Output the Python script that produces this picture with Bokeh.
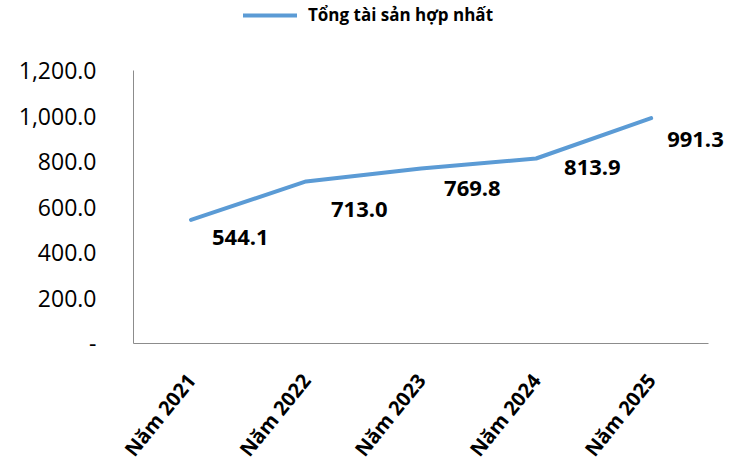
from bokeh.plotting import figure
from bokeh.models import Legend, LegendItem, FixedTicker, ColumnDataSource, Range1d
from bokeh.core.properties import value
from bokeh.embed import file_html
from bokeh.resources import INLINE
import math

years = ["Năm 2021", "Năm 2022", "Năm 2023", "Năm 2024", "Năm 2025"]
total_assets = [544.1, 713.0, 769.8, 813.9, 991.3]
series_name = "Tổng tài sản hợp nhất"
y_ticks = [0, 200, 400, 600, 800, 1000, 1200]
y_tick_labels = ["-", "200.0", "400.0", "600.0", "800.0", "1,000.0", "1,200.0"]

# label offsets in pixels (style)
label_dx = [21, 25, 23, 28, 16]
label_dy = [18, 28, 20, 9, 21]

FONT = "Open Sans"

x_pos = [i + 0.5 for i in range(len(years))]

p = figure(width=730, height=473,
           x_range=Range1d(0, 5.19), y_range=Range1d(0, 1509),
           output_backend="svg", toolbar_location=None,
           min_border_left=133, min_border_right=0, min_border_top=0, min_border_bottom=126)
p.outline_line_color = None
p.xgrid.grid_line_color = None
p.ygrid.grid_line_color = None

src = ColumnDataSource(dict(x=x_pos, y=total_assets,
                            t=[f"{v:,.1f}" for v in total_assets],
                            dx=label_dx, dy=label_dy))
r = p.line("x", "y", source=src, line_color="#5B9BD5", line_width=4, line_join="round", line_cap="round")
p.text("x", "y", text="t", source=src, x_offset="dx", y_offset="dy",
       text_align="left", text_baseline="middle",
       text_font=value(FONT), text_font_size="22px", text_font_style="bold", text_color="#000000")

# y axis
p.yaxis.ticker = FixedTicker(ticks=y_ticks)
p.yaxis.bounds = (0, 1200)
p.yaxis.major_label_overrides = {t: l for t, l in zip(y_ticks, y_tick_labels)}
p.yaxis.major_tick_line_color = None
p.yaxis.minor_tick_line_color = None
p.yaxis.axis_line_color = "#8c8c8c"
p.yaxis.major_label_standoff = 31
p.yaxis.major_label_text_font = FONT
p.yaxis.major_label_text_font_size = "23px"
p.yaxis.major_label_text_color = "#000000"

# x axis
p.xaxis.ticker = FixedTicker(ticks=x_pos)
p.xaxis.bounds = (0, 5)
p.xaxis.major_label_overrides = {x: y for x, y in zip(x_pos, years)}
p.xaxis.major_tick_line_color = None
p.xaxis.minor_tick_line_color = None
p.xaxis.axis_line_color = "#8c8c8c"
p.xaxis.major_label_orientation = math.radians(51)
p.xaxis.major_label_standoff = 27
p.xaxis.major_label_text_font = FONT
p.xaxis.major_label_text_font_size = "20px"
p.xaxis.major_label_text_font_style = "bold"
p.xaxis.major_label_text_color = "#000000"

legend = Legend(items=[LegendItem(label=series_name, renderers=[r])],
                location=(110, 317), orientation="horizontal",
                glyph_width=54, glyph_height=20, label_standoff=11,
                padding=0, margin=0, border_line_color=None, background_fill_alpha=0,
                label_text_font=FONT, label_text_font_size="17px", label_text_font_style="bold",
                label_text_color="#000000")
p.add_layout(legend, "center")

open("out.html", "w").write(file_html(p, INLINE))
